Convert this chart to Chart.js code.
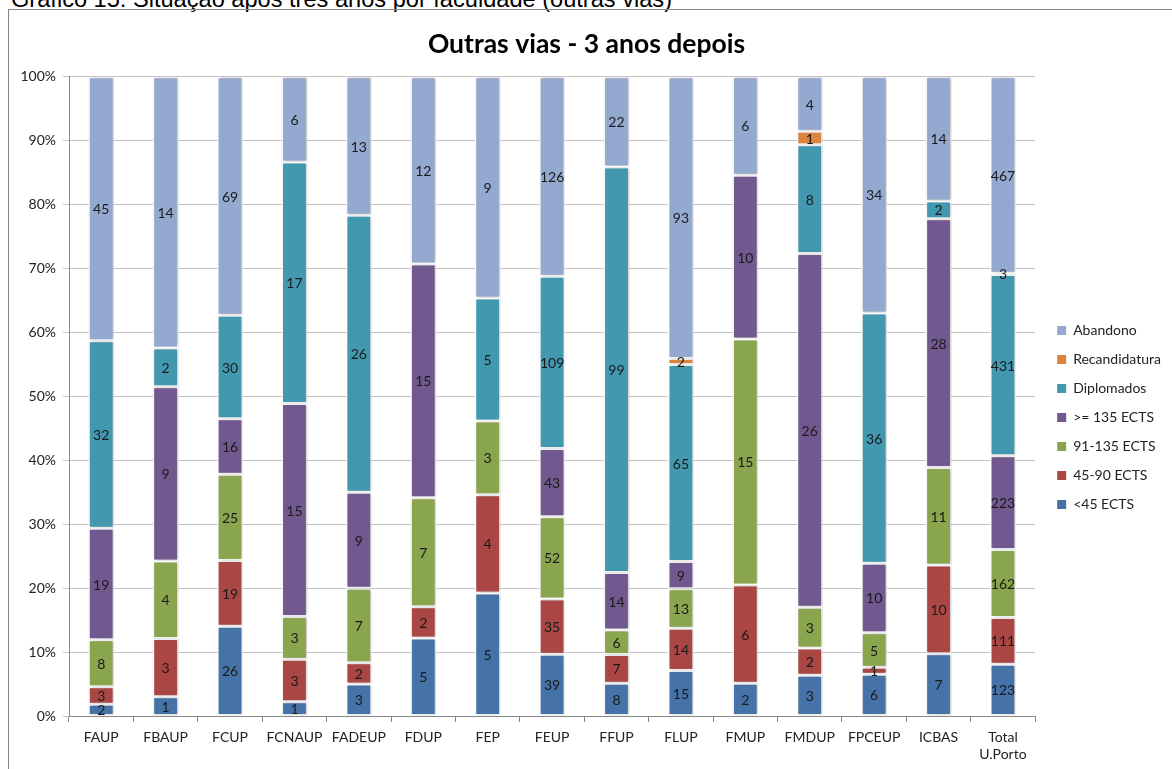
<!DOCTYPE html>
<html>
<head>
<meta charset="utf-8">
<script src="https://cdn.jsdelivr.net/npm/chart.js@4.4.1/dist/chart.umd.min.js"></script>
<style>
  html, body { margin: 0; padding: 0; background: #fff; overflow: hidden; }
  body { width: 1172px; height: 769px; position: relative; }
  #caption {
    position: absolute; left: 11px; top: -13px;
    font-family: "Liberation Sans", Arial, sans-serif; font-size: 23.6px; line-height: 24px;
    color: #000; white-space: nowrap;
  }
  #frame {
    position: absolute; left: 8px; top: 9px; width: 1200px; height: 800px;
    border: 1px solid #868686; box-sizing: border-box;
  }
  #wrap { position: absolute; left: 9px; top: 10px; width: 1163px; height: 759px; }
  #chart { display: block; }
</style>
</head>
<body>
<div id="caption">Gráfico 15: Situação após três anos por faculdade (outras vias)</div>
<div id="frame"></div>
<div id="wrap"><canvas id="chart" width="1163" height="759"></canvas></div>
<script>
const categories = ['FAUP', 'FBAUP', 'FCUP', 'FCNAUP', 'FADEUP', 'FDUP', 'FEP', 'FEUP', 'FFUP',
                    'FLUP', 'FMUP', 'FMDUP', 'FPCEUP', 'ICBAS', ['Total', 'U.Porto']];

// counts per faculty (labels shown in the bars)
const menos45     = [2, 1, 26, 1, 3, 5, 5, 39, 8, 15, 2, 3, 6, 7, 123];
const ects45_90   = [3, 3, 19, 3, 2, 2, 4, 35, 7, 14, 6, 2, 1, 10, 111];
const ects91_135  = [8, 4, 25, 3, 7, 7, 3, 52, 6, 13, 15, 3, 5, 11, 162];
const ects135     = [19, 9, 16, 15, 9, 15, 0, 43, 14, 9, 10, 26, 10, 28, 223];
const diplomados  = [32, 2, 30, 17, 26, 0, 5, 109, 99, 65, 0, 8, 36, 2, 431];
const recand      = [0, 0, 0, 0, 0, 0, 0, 0, 0, 2, 0, 1, 0, 0, 3];
const abandono    = [45, 14, 69, 6, 13, 12, 9, 126, 22, 93, 6, 4, 34, 14, 467];

const yTicks = [0, 10, 20, 30, 40, 50, 60, 70, 80, 90, 100];

const series = [
    { label: '<45 ECTS', counts: menos45, color: '#4572A7' },
    { label: '45-90 ECTS', counts: ects45_90, color: '#AA4643' },
    { label: '91-135 ECTS', counts: ects91_135, color: '#89A54E' },
    { label: '>= 135 ECTS', counts: ects135, color: '#71588F' },
    { label: 'Diplomados', counts: diplomados, color: '#4198AF' },
    { label: 'Recandidatura', counts: recand, color: '#DB843D' },
    { label: 'Abandono', counts: abandono, color: '#93A9CF' }
];

const totals = categories.map((c, i) => series.reduce((s, d) => s + d.counts[i], 0));

const datasets = series.map(s => ({
    label: s.label,
    data: s.counts.map((v, i) => v / totals[i] * 100),
    counts: s.counts,
    backgroundColor: s.color,
    borderColor: '#ffffff',
    borderWidth: 1.5,
    borderSkipped: false,
    categoryPercentage: 1,
    barPercentage: 0.4
}));

const FONT = 'Lato, "Open Sans", sans-serif';

const barLabels = {
    id: 'barLabels',
    beforeDatasetsDraw(chart) {
        const ctx = chart.ctx;
        ctx.save();
        ctx.shadowColor = 'rgba(0,0,0,0.28)';
        ctx.shadowBlur = 3;
        ctx.shadowOffsetX = 1;
    },
    afterDatasetsDraw(chart) {
        const ctx = chart.ctx;
        ctx.restore();
        ctx.save();
        ctx.font = '14px ' + FONT;
        ctx.fillStyle = '#1a1a1a';
        ctx.textAlign = 'center';
        ctx.textBaseline = 'middle';
        chart.data.datasets.forEach((ds, di) => {
            const meta = chart.getDatasetMeta(di);
            meta.data.forEach((bar, i) => {
                const v = ds.counts[i];
                if (!v) return;
                ctx.fillText(String(v), bar.x, (bar.y + bar.base) / 2 + 1);
            });
        });
        ctx.restore();
    }
};

const legendShift = {
    id: 'legendShift',
    afterLayout(chart) {
        const lg = chart.legend;
        lg.left += 7; lg.right += 7;
        lg.top += 28; lg.bottom += 28;
    }
};

const ctx = document.getElementById('chart').getContext('2d');
new Chart(ctx, {
    type: 'bar',
    data: { labels: categories, datasets: datasets },
    plugins: [barLabels, legendShift],
    options: {
        responsive: false,
        maintainAspectRatio: false,
        animation: false,
        devicePixelRatio: 1,
        layout: { padding: { right: 8 } },
        plugins: {
            title: {
                display: true,
                text: 'Outras vias - 3 anos depois',
                font: { family: FONT, size: 26.5, weight: 'bold' },
                color: '#000',
                padding: { top: 19, bottom: 16 }
            },
            legend: {
                position: 'right',
                reverse: true,
                labels: {
                    boxWidth: 9,
                    boxHeight: 9,
                    padding: 15,
                    color: '#222',
                    font: { family: FONT, size: 14 },
                    generateLabels(chart) {
                        return Chart.defaults.plugins.legend.labels.generateLabels(chart)
                            .map(l => Object.assign(l, { strokeStyle: l.fillStyle, lineWidth: 0 }));
                    }
                }
            },
            tooltip: { enabled: false }
        },
        scales: {
            x: {
                stacked: true,
                afterFit(s) { s.height = 53; },
                grid: { offset: true, drawOnChartArea: false, drawTicks: true, tickLength: 6, color: '#888' },
                border: { color: '#888' },
                ticks: { color: '#222', font: { family: FONT, size: 14 }, padding: 7, maxRotation: 0, autoSkip: false }
            },
            y: {
                stacked: true,
                min: 0,
                max: 100,
                afterFit(s) { s.width = 60; },
                afterBuildTicks(s) { s.ticks = yTicks.map(v => ({ value: v })); },
                grid: { color: '#c4c4c4', tickLength: 6 },
                border: { color: '#888' },
                ticks: {
                    color: '#222', font: { family: FONT, size: 14 }, padding: 7,
                    callback: v => v + '%'
                }
            }
        }
    }
});
</script>
</body>
</html>
